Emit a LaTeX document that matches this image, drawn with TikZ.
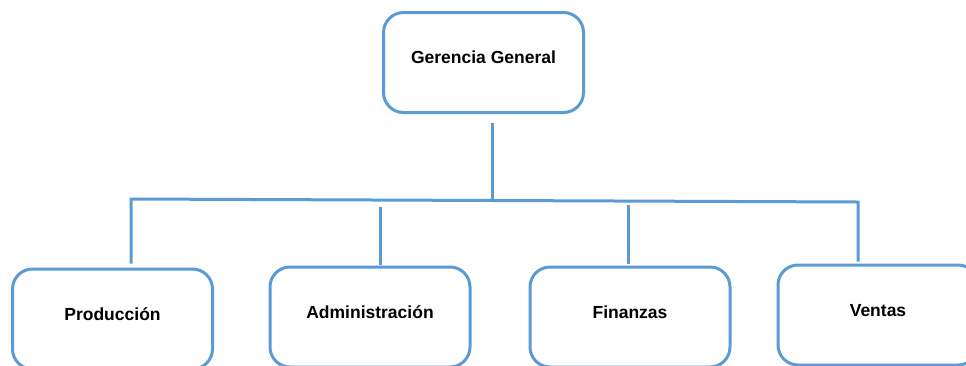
\documentclass[tikz,border=0pt]{standalone}
\usepackage{fontspec}
\setmainfont{Liberation Sans}
\definecolor{orgblue}{RGB}{91,155,213}
\begin{document}
\begin{tikzpicture}[x=1pt,y=-1pt,
  unit/.style={draw=orgblue, line width=3pt, rounded corners=20pt,
    minimum width=200pt, minimum height=100pt, inner sep=0pt,
    text height=13pt, text depth=11pt,
    font=\fontsize{17.5}{20}\selectfont\bfseries},
  conn/.style={draw=orgblue, line width=3pt}]
\useasboundingbox (0,0) rectangle (966,365);

% management box and departments
\node[unit] (ger) at (483.5,62.5) {Gerencia General};
\node[unit] (prod) at (112.5,319) {Producción};
\node[unit] (adm) at (370,317) {Administración};
\node[unit] (fin) at (630,317) {Finanzas};
\node[unit] (ven) at (878,315) {Ventas};

% junction points of the distribution bus
\coordinate (bl) at (131,199);
\coordinate (br) at (858,202);
\coordinate (gj) at (492,200);
\coordinate (aj) at (380,207);
\coordinate (fj) at (628,205);

% feed from management down to the bus
\draw[conn, shorten <=9pt] (ger.south -| gj) -- (gj);

% bus with its outer drops
\draw[conn, shorten <=4pt, shorten >=2pt] (bl |- prod.north) -- (bl) -- (br) -- (br |- ven.north);

% inner drops
\draw[conn, shorten >=1pt] (aj) -- (aj |- adm.north);
\draw[conn, shorten >=2pt] (fj) -- (fj |- fin.north);
\end{tikzpicture}
\end{document}
